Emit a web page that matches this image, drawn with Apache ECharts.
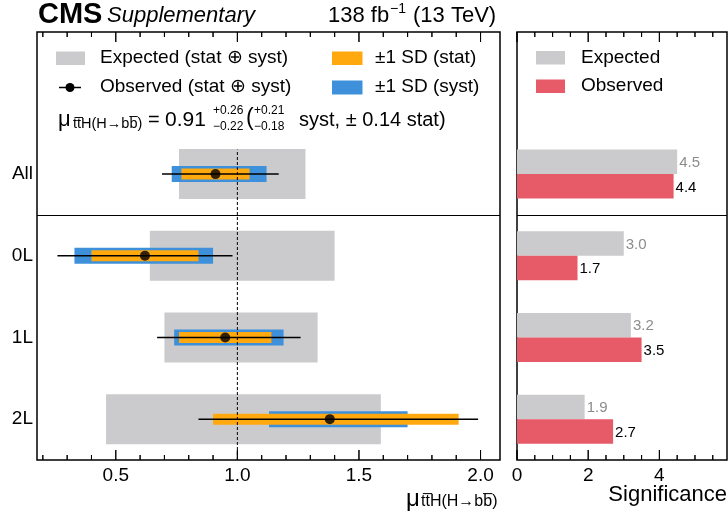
<!DOCTYPE html>
<html>
<head>
<meta charset="utf-8">
<script src="https://cdn.jsdelivr.net/npm/echarts@6/dist/echarts.min.js"></script>
<style>
  html, body { margin: 0; padding: 0; background: #fff; }
  #chart { width: 728px; height: 514px; }
</style>
</head>
<body>
<div id="chart"></div>
<script>
// Signal strength per channel and significance
const categories = ['All', '0L', '1L', '2L'];
const rowPos = [3, 2, 1, 0];

const muObs  = [0.91, 0.62, 0.95, 1.38];
const totLo  = [0.69, 0.26, 0.67, 0.84];
const totHi  = [1.17, 0.98, 1.26, 1.99];
const systLo = [0.73, 0.33, 0.74, 1.13];
const systHi = [1.12, 0.90, 1.19, 1.70];
const statLo = [0.77, 0.40, 0.76, 0.90];
const statHi = [1.05, 0.84, 1.14, 1.91];
const expLo  = [0.76, 0.64, 0.70, 0.46];
const expHi  = [1.28, 1.40, 1.33, 1.59];

const sigExp = [4.5, 3.0, 3.2, 1.9];
const sigObs = [4.4, 1.7, 3.5, 2.7];

const muTicks  = [0.5, 1.0, 1.5, 2.0];
const muMinor  = [0.2, 0.3, 0.4, 0.6, 0.7, 0.8, 0.9, 1.1, 1.2, 1.3, 1.4, 1.6, 1.7, 1.8, 1.9];
const sigTicks = [0, 2, 4];
const sigMinor = [0.5, 1, 1.5, 2.5, 3, 3.5, 4.5, 5, 5.5];

const smMu = 1.0;
const smLineTop = 3.3;
const splitY = 2.5;

const FONT = '"Liberation Sans", Arial, Helvetica, sans-serif';
const C_GRAY = '#cbcbcd', C_BLUE = '#3f90da', C_ORANGE = '#ffa90e', C_RED = '#e75a68';

const MU_MIN = 0.176, MU_MAX = 2.08;
const SIG_MIN = 0, SIG_MAX = 5.9;
const Y_MIN = -0.5, Y_MAX = 4.74;

function labelAxis(grid, min, max, values, fmt) {
  return {
    type: 'value', gridIndex: grid, position: 'bottom', min: min, max: max,
    axisLine: { show: false }, splitLine: { show: false }, axisTick: { show: false },
    axisLabel: { show: true, customValues: values, margin: 6, color: '#000',
                 fontSize: 19, fontFamily: FONT, formatter: fmt }
  };
}

// Inward tick marks on the bottom and top edges of a panel frame
function tickSeries(xi, yi, values, len) {
  return {
    type: 'custom', name: 'tick', xAxisIndex: xi, yAxisIndex: yi, z: 8,
    data: values.map(v => [v, 1]),
    encode: { x: 0, y: 1 },
    renderItem: function (params, api) {
      const v = api.value(0);
      const b = api.coord([v, Y_MIN]);
      const t = api.coord([v, Y_MAX]);
      return { type: 'group', children: [
        { type: 'rect', shape: { x: b[0] - 0.5, y: b[1] - len, width: 1, height: len }, style: { fill: '#000' } },
        { type: 'rect', shape: { x: t[0] - 0.5, y: t[1], width: 1, height: len }, style: { fill: '#000' } }
      ]};
    }
  };
}

function boxSeries(name, lo, hi, half, color, z) {
  return {
    type: 'custom', name: name, xAxisIndex: 0, yAxisIndex: 0, z: z,
    data: categories.map((c, i) => [rowPos[i], lo[i], hi[i]]),
    encode: { x: [1, 2], y: 0 },
    renderItem: function (params, api) {
      const y = api.value(0);
      const a = api.coord([api.value(1), y]);
      const b = api.coord([api.value(2), y]);
      return { type: 'rect', shape: { x: a[0], y: a[1] - half, width: b[0] - a[0], height: 2 * half },
               style: { fill: color } };
    }
  };
}

function sigSeries(name, vals, color, textColor, above) {
  return {
    type: 'custom', name: name, xAxisIndex: 1, yAxisIndex: 1, z: 3,
    data: categories.map((c, i) => [rowPos[i], vals[i]]),
    encode: { x: 1, y: 0 },
    renderItem: function (params, api) {
      const y = api.value(0), v = api.value(1);
      const a = api.coord([0, y]);
      const b = api.coord([v, y]);
      const h = 24.5;
      const top = above ? a[1] - h : a[1];
      return { type: 'group', children: [
        { type: 'rect', shape: { x: a[0], y: top, width: b[0] - a[0], height: h }, style: { fill: color } },
        { type: 'text', x: b[0] + 2, y: top + h / 2 + 1,
          style: { text: v.toFixed(1), fill: textColor, font: '15px ' + FONT, align: 'left', verticalAlign: 'middle' } }
      ]};
    }
  };
}

function txt(x, y, s, size, opts) {
  opts = opts || {};
  return { type: 'text', x: x, y: y, z: 20,
    style: { text: s, fill: opts.fill || '#000',
             font: (opts.style || '') + ' ' + (opts.weight || '') + ' ' + size + 'px ' + FONT,
             align: opts.align || 'left', verticalAlign: 'middle' } };
}

const OV = '\u0305';
const subText = 'tt' + OV + 'H(H\u2192bb' + OV + ')';

const graphics = [
  // header
  txt(38, 15, 'CMS', 29, { weight: 'bold' }),
  txt(107, 16, 'Supplementary', 22, { style: 'italic' }),
  txt(328, 16, '138 fb', 22),
  txt(390, 9, '\u22121', 14),
  txt(413, 16, '(13 TeV)', 22),
  // left legend
  { type: 'rect', shape: { x: 56, y: 51.5, width: 29, height: 13.5 }, style: { fill: C_GRAY } },
  txt(100, 58, 'Expected (stat \u2295 syst)', 19),
  { type: 'line', shape: { x1: 59, y1: 87.5, x2: 81, y2: 87.5 }, style: { stroke: '#000', lineWidth: 1.5 } },
  { type: 'circle', shape: { cx: 70, cy: 87.5, r: 4.5 }, style: { fill: '#000' } },
  txt(100, 87, 'Observed (stat \u2295 syst)', 19),
  { type: 'rect', shape: { x: 332, y: 51.5, width: 30.5, height: 13.5 }, style: { fill: C_ORANGE } },
  txt(375, 58, '\u00b11 SD (stat)', 19),
  { type: 'rect', shape: { x: 332, y: 80.5, width: 30.5, height: 14 }, style: { fill: C_BLUE } },
  txt(375, 87, '\u00b11 SD (syst)', 19),
  // combined result
  txt(58, 120, '\u03bc', 22),
  txt(73, 124, subText, 14.5),
  txt(148, 120, '=', 20),
  txt(165, 120, '0.91', 21),
  txt(213, 111, '+0.26', 12),
  txt(213, 127, '\u22120.22', 12),
  txt(246, 119, '(', 23),
  txt(254, 111, '+0.21', 12),
  txt(254, 127, '\u22120.18', 12),
  txt(299, 120, 'syst, \u00b1 0.14 stat)', 20),
  // right legend
  { type: 'rect', shape: { x: 536, y: 51, width: 29, height: 13.5 }, style: { fill: C_GRAY } },
  txt(581, 58, 'Expected', 19),
  { type: 'rect', shape: { x: 536, y: 79.5, width: 29, height: 13.5 }, style: { fill: C_RED } },
  txt(581, 86, 'Observed', 19),
  // axis titles
  txt(406, 499, '\u03bc', 24),
  txt(421, 502, subText, 16),
  txt(727, 495, 'Significance', 22, { align: 'right' })
];

const muLabel = v => Number(v).toFixed(1);
const sigLabel = v => String(Math.round(v));

const splitMark = {
  silent: true, symbol: 'none', label: { show: false },
  lineStyle: { color: '#000', width: 1, type: 'solid' }, data: [{ yAxis: splitY }]
};

const option = {
  animation: false,
  backgroundColor: '#fff',
  grid: [
    { left: 37, right: 228, top: 32, bottom: 54, show: true, borderColor: '#000', borderWidth: 1.5, backgroundColor: 'transparent' },
    { left: 517, right: 1, top: 32, bottom: 54, show: true, borderColor: '#000', borderWidth: 1.5, backgroundColor: 'transparent' }
  ],
  xAxis: [
    labelAxis(0, MU_MIN, MU_MAX, muTicks, muLabel),
    labelAxis(1, SIG_MIN, SIG_MAX, sigTicks, sigLabel)
  ],
  yAxis: [
    { type: 'value', gridIndex: 0, min: Y_MIN, max: Y_MAX,
      axisLine: { show: false }, axisTick: { show: false }, splitLine: { show: false },
      axisLabel: { show: true, customValues: rowPos, margin: 4, color: '#000', fontSize: 19, fontFamily: FONT,
                   formatter: v => categories[rowPos.indexOf(Math.round(v))] } },
    { type: 'value', gridIndex: 1, min: Y_MIN, max: Y_MAX,
      axisLine: { show: false }, axisTick: { show: false }, splitLine: { show: false },
      axisLabel: { show: false } }
  ],
  graphic: graphics,
  series: [
    Object.assign(boxSeries('Expected (stat \u2295 syst)', expLo, expHi, 25, C_GRAY, 2), { markLine: splitMark }),
    boxSeries('\u00b11 SD (syst)', systLo, systHi, 8, C_BLUE, 3),
    boxSeries('\u00b11 SD (stat)', statLo, statHi, 5.5, C_ORANGE, 4),
    {
      type: 'line', xAxisIndex: 0, yAxisIndex: 0, z: 5, symbol: 'none', silent: true,
      data: [[smMu, Y_MIN], [smMu, smLineTop]],
      lineStyle: { color: '#000', width: 1, type: [3, 2] }
    },
    {
      type: 'custom', name: 'Observed (stat \u2295 syst)', xAxisIndex: 0, yAxisIndex: 0, z: 6,
      data: categories.map((c, i) => [rowPos[i], totLo[i], totHi[i]]),
      encode: { x: [1, 2], y: 0 },
      renderItem: function (params, api) {
        const y = api.value(0);
        const a = api.coord([api.value(1), y]);
        const b = api.coord([api.value(2), y]);
        return { type: 'line', shape: { x1: a[0], y1: a[1], x2: b[0], y2: b[1] },
                 style: { stroke: '#000', lineWidth: 1.5 } };
      }
    },
    {
      type: 'scatter', xAxisIndex: 0, yAxisIndex: 0, z: 7, symbol: 'circle', symbolSize: 10,
      itemStyle: { color: '#000' },
      data: categories.map((c, i) => [muObs[i], rowPos[i]])
    },
    Object.assign(sigSeries('Expected', sigExp, C_GRAY, '#8c8c8c', true), { markLine: splitMark }),
    sigSeries('Observed', sigObs, C_RED, '#000', false),
    tickSeries(0, 0, muTicks, 10),
    tickSeries(0, 0, muMinor, 5),
    tickSeries(1, 1, sigTicks, 10),
    tickSeries(1, 1, sigMinor, 5)
  ]
};

const chart = echarts.init(document.getElementById('chart'), null, { renderer: 'canvas' });
chart.setOption(option);

// Frame ticks as overlay elements, positioned through each panel's scales
const tickEls = [];
function addTicks(seriesIndex, values, len) {
  values.forEach(function (v) {
    const b = chart.convertToPixel({ seriesIndex: seriesIndex }, [v, Y_MIN]);
    const t = chart.convertToPixel({ seriesIndex: seriesIndex }, [v, Y_MAX]);
    if (!b || !t || !isFinite(b[0]) || !isFinite(b[1]) || !isFinite(t[1])) return;
    tickEls.push({ type: 'rect', z: 15, silent: true,
      shape: { x: b[0] - 0.5, y: b[1] - len, width: 1, height: len }, style: { fill: '#000' } });
    tickEls.push({ type: 'rect', z: 15, silent: true,
      shape: { x: t[0] - 0.5, y: t[1], width: 1, height: len }, style: { fill: '#000' } });
  });
}
try {
  addTicks(0, muTicks, 10);
  addTicks(0, muMinor, 5);
  addTicks(6, sigTicks, 10);
  addTicks(6, sigMinor, 5);
  if (tickEls.length) chart.setOption({ graphic: graphics.concat(tickEls) });
} catch (e) { /* series ticks above still draw the frame ticks */ }
</script>
</body>
</html>
